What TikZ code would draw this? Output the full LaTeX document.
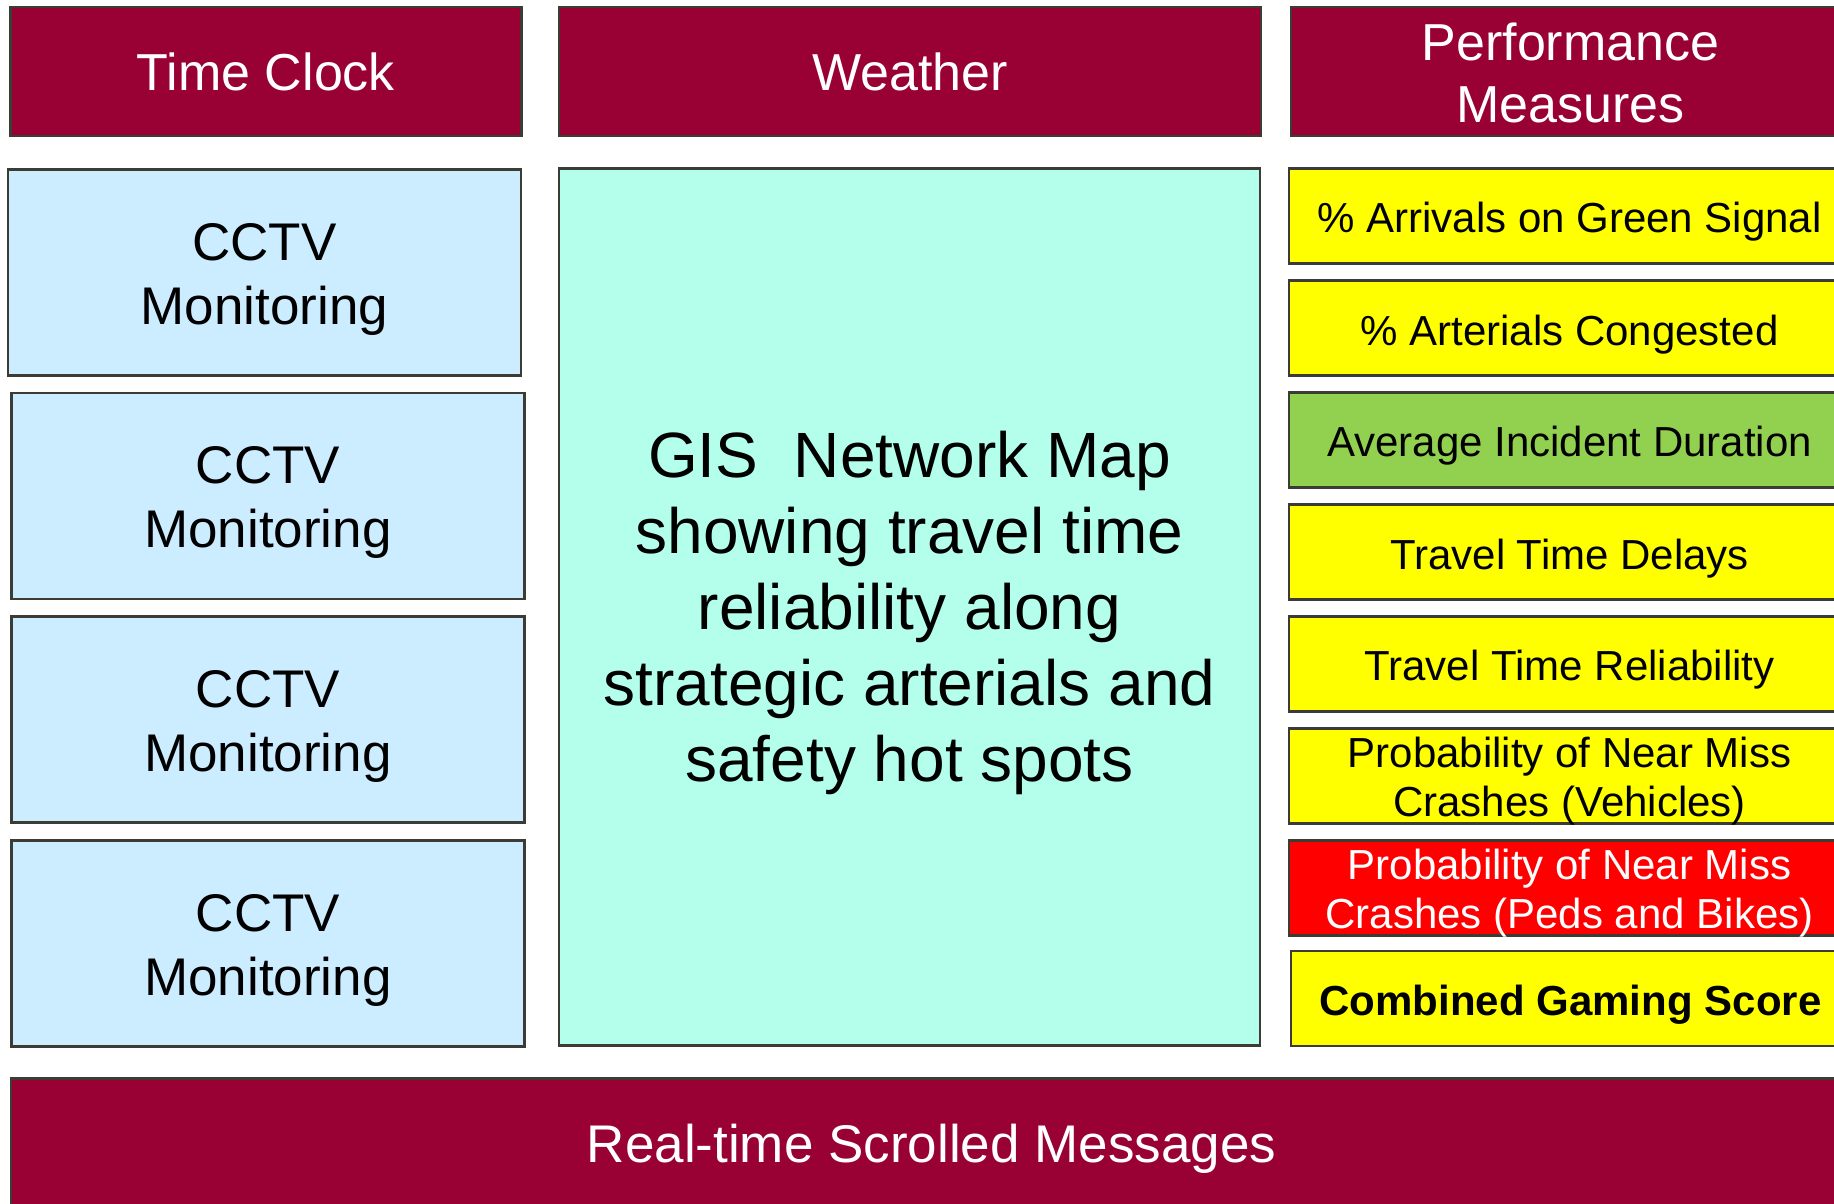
\documentclass[tikz,border=0pt]{standalone}
\usepackage{fontspec}
\setmainfont{Liberation Sans}
\definecolor{maroon}{HTML}{990033}
\definecolor{camblue}{HTML}{CCECFF}
\definecolor{gisgreen}{HTML}{B3FFEC}
\definecolor{pmyellow}{HTML}{FFFF00}
\definecolor{pmgreen}{HTML}{92D050}
\definecolor{pmred}{HTML}{FF0000}
\definecolor{edge}{HTML}{3C3C34}
\tikzset{
  box/.style={draw=edge, line width=2.6pt, inner sep=0pt, anchor=center},
  txt/.style={inner sep=0pt, align=center, anchor=center},
  header/.style={box, fill=maroon},
  headtext/.style={txt, text=white, font=\fontsize{52}{62}\selectfont},
  cam/.style={box, fill=camblue, minimum width=513pt, minimum height=206pt},
  camtext/.style={txt, text=black, font=\fontsize{53}{64}\selectfont},
  pm/.style={box, minimum width=561pt, minimum height=95pt},
  pmtext/.style={txt, text=black, font=\fontsize{42}{49}\selectfont},
}
\begin{document}
\begin{tikzpicture}[x=1pt,y=-1pt]
\useasboundingbox (0,0) rectangle (1834,1204);
\clip (0,0) rectangle (1834,1204);
% header row
\node[header, minimum width=511pt, minimum height=129pt] (clock) at (266,71.5) {};
\node[headtext] (clockt) at (clock.center) {Time Clock};
\node[header, minimum width=702pt, minimum height=129pt] (weather) at (910,71.5) {};
\node[headtext] (weathert) at (weather.center) {Weather};
\node[header, minimum width=559pt, minimum height=129pt] (perf) at (1570.5,71.5) {};
\node[headtext] (perft) at ([yshift=-1.5pt]perf.center) {Performance\\Measures};
% CCTV column
\node[cam] (cam1) at (264.5,272.2) {};
\node[camtext] (cam1t) at ([yshift=-7pt]cam1.center) {CCTV\\Monitoring};
\node[cam] (cam2) at (268,495.9) {};
\node[camtext] (cam2t) at ([yshift=-7pt]cam2.center) {CCTV\\Monitoring};
\node[cam] (cam3) at (268,719.4) {};
\node[camtext] (cam3t) at ([yshift=-7pt]cam3.center) {CCTV\\Monitoring};
\node[cam] (cam4) at (268,943.7) {};
\node[camtext] (cam4t) at ([yshift=-7pt]cam4.center) {CCTV\\Monitoring};
% GIS map
\node[box, fill=gisgreen, minimum width=701pt, minimum height=877pt] (gis) at (909.5,607) {};
\node[txt, font=\fontsize{64}{76}\selectfont] (gist) at ([yshift=-6pt]gis.center) {GIS\ \ Network Map\\showing travel time\\reliability along\\strategic arterials and\\safety hot spots};
% performance measures
\node[pm, fill=pmyellow] (pm1) at (1569.5,216) {};
\node[pmtext] (pm1t) at ([yshift=-6pt]pm1.center) {\% Arrivals on Green Signal};
\node[pm, fill=pmyellow] (pm2) at (1569.5,328.2) {};
\node[pmtext] (pm2t) at ([yshift=-6pt]pm2.center) {\% Arterials Congested};
\node[pm, fill=pmgreen] (pm3) at (1569.5,440) {};
\node[pmtext] (pm3t) at ([yshift=-6pt]pm3.center) {Average Incident Duration};
\node[pm, fill=pmyellow] (pm4) at (1569.5,552.2) {};
\node[pmtext] (pm4t) at ([yshift=-6pt]pm4.center) {Travel Time Delays};
\node[pm, fill=pmyellow] (pm5) at (1569.5,663.9) {};
\node[pmtext] (pm5t) at ([yshift=-6pt]pm5.center) {Travel Time Reliability};
\node[pm, fill=pmyellow] (pm6) at (1569.5,775.8) {};
\node[pmtext] (pm6t) at ([yshift=-5pt]pm6.center) {Probability of Near Miss\\Crashes (Vehicles)};
\node[pm, fill=pmred] (pm7) at (1569.5,888.2) {};
\node[pmtext, text=white] (pm7t) at ([yshift=-5pt]pm7.center) {Probability of Near Miss\\Crashes (Peds and Bikes)};
\node[pm, fill=pmyellow, minimum width=559pt] (pm8) at (1570.5,998.5) {};
\node[pmtext, font=\fontsize{42}{49}\selectfont\bfseries] (pm8t) at ([yshift=-6pt]pm8.center) {Combined Gaming Score};
% bottom banner
\node[header, minimum width=1841pt, minimum height=136.5pt] (msgs) at (931.5,1146.75) {};
\node[headtext, font=\fontsize{53}{64}\selectfont] (msgst) at ([yshift=-2pt]msgs.center) {Real-time Scrolled Messages};
\end{tikzpicture}
\end{document}
